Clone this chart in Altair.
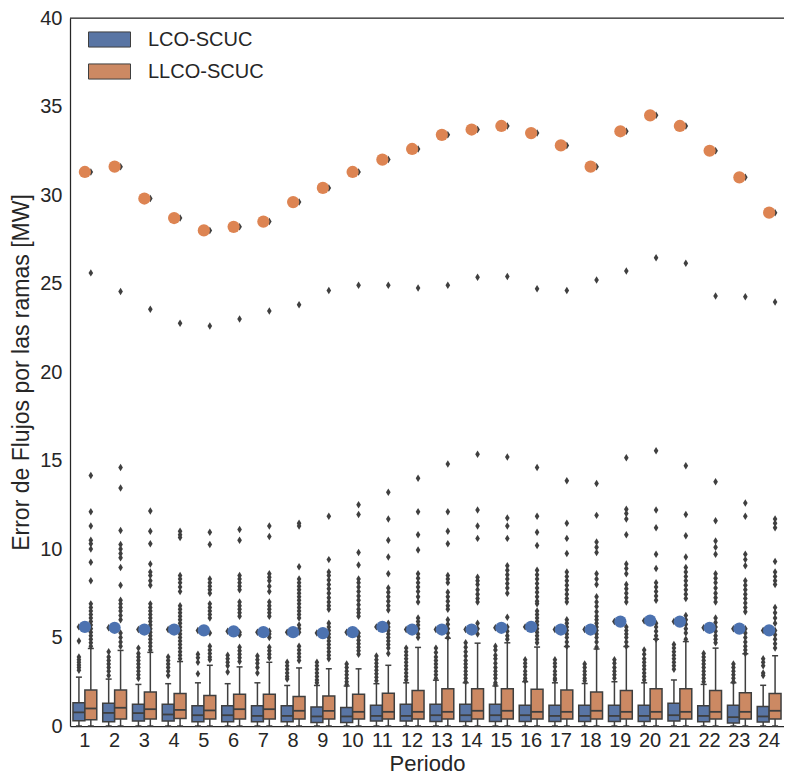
import altair as alt
import pandas as pd

periods = list(range(1, 25))
series = ["LCO-SCUC", "LLCO-SCUC"]

# LCO-SCUC box statistics
lco_q1 = [0.30, 0.24, 0.28, 0.28, 0.24, 0.24, 0.24, 0.24, 0.20, 0.20, 0.28, 0.28,
          0.26, 0.26, 0.26, 0.26, 0.26, 0.26, 0.26, 0.26, 0.28, 0.24, 0.17, 0.22]
lco_med = [0.77, 0.74, 0.73, 0.65, 0.61, 0.61, 0.57, 0.57, 0.54, 0.54, 0.57, 0.57,
           0.61, 0.61, 0.61, 0.61, 0.57, 0.57, 0.57, 0.57, 0.61, 0.57, 0.50, 0.54]
lco_q3 = [1.32, 1.29, 1.23, 1.23, 1.14, 1.14, 1.14, 1.14, 1.08, 1.05, 1.17, 1.23,
          1.23, 1.23, 1.23, 1.17, 1.17, 1.17, 1.17, 1.17, 1.29, 1.14, 1.17, 1.10]
lco_whi = [2.76, 2.65, 2.35, 2.39, 2.44, 2.39, 2.44, 2.29, 2.29, 2.26, 2.39, 2.44,
           2.59, 2.44, 2.26, 2.50, 2.44, 2.40, 2.50, 2.44, 2.60, 2.35, 2.44, 2.30]
lco_wlo = [0.0] * 24

# LLCO-SCUC box statistics
llco_q1 = [0.35, 0.39, 0.39, 0.43, 0.39, 0.39, 0.39, 0.39, 0.39, 0.39, 0.39, 0.39,
           0.39, 0.39, 0.39, 0.39, 0.39, 0.39, 0.39, 0.39, 0.39, 0.39, 0.39, 0.39]
llco_med = [0.99, 1.03, 0.95, 0.91, 0.88, 0.95, 0.95, 0.86, 0.86, 0.80, 0.80, 0.80,
            0.80, 0.86, 0.86, 0.80, 0.80, 0.86, 0.80, 0.80, 0.80, 0.80, 0.80, 0.86]
llco_q3 = [2.03, 2.03, 1.92, 1.83, 1.73, 1.79, 1.79, 1.66, 1.70, 1.79, 1.85, 2.01,
           2.10, 2.10, 2.10, 2.07, 2.03, 1.92, 2.01, 2.10, 2.10, 2.01, 1.88, 1.83]
llco_whi = [4.38, 4.27, 4.16, 3.64, 3.43, 3.34, 3.60, 3.28, 3.23, 3.23, 3.43, 4.44,
            4.96, 4.68, 4.70, 4.46, 4.49, 4.35, 4.49, 4.90, 4.77, 4.40, 4.08, 3.97]
llco_wlo = [0.0] * 24

# maxima (scatter dots, also the top flier of each box)
lco_max = [5.60, 5.55, 5.45, 5.45, 5.40, 5.35, 5.30, 5.30, 5.25, 5.30, 5.60, 5.45,
           5.45, 5.45, 5.55, 5.60, 5.45, 5.45, 5.90, 5.95, 5.90, 5.55, 5.50, 5.40]
llco_max = [31.3, 31.6, 29.8, 28.7, 28.0, 28.2, 28.5, 29.6, 30.4, 31.3, 32.0, 32.6,
            33.4, 33.7, 33.9, 33.5, 32.8, 31.6, 33.6, 34.5, 33.9, 32.5, 31.0, 29.0]

# other fliers
lco_fliers = [
    [4.8, 3.9, 3.75, 3.6, 3.45, 3.3, 3.15],
    [4.2, 3.9, 3.7, 3.5, 3.3, 3.1, 2.85],
    [4.4, 4.1, 3.9, 3.7, 3.5, 3.3, 3.1, 2.9, 2.7],
    [3.9, 3.7, 3.5, 3.3, 3.1, 2.85],
    [4.05, 3.85, 3.6, 2.95],
    [4.0, 3.8, 3.6, 3.4, 3.05],
    [3.95, 3.75, 3.55, 3.3, 3.0],
    [3.6, 3.4, 3.2, 3.0, 2.8, 2.65],
    [3.6, 3.4, 3.2, 3.0, 2.8, 2.6, 2.45],
    [3.5, 3.3, 3.1, 2.9, 2.7, 2.5, 2.35],
    [3.95, 3.75, 3.55, 3.35, 3.15, 2.95, 2.75, 2.55],
    [4.4, 4.2, 4.0, 3.8, 3.6, 3.4, 3.2, 3.0, 2.8, 2.6],
    [4.4, 4.15, 3.9, 3.7, 3.5, 3.3, 3.1, 2.9, 2.7],
    [4.7, 4.45, 4.2, 3.95, 3.7, 3.5, 3.3, 3.1, 2.9, 2.7, 2.5],
    [4.5, 4.3, 4.0, 3.8, 3.55, 3.3, 3.1, 2.9, 2.7, 2.45, 2.35],
    [3.75, 3.55, 3.35, 3.1, 2.9, 2.7, 2.55],
    [3.75, 3.55, 3.35, 3.1, 2.9, 2.7, 2.6],
    [3.5, 3.3, 3.1, 2.9, 2.7, 2.55],
    [3.75, 3.55, 3.3, 3.1, 2.9, 2.7],
    [4.3, 4.05, 3.8, 3.6, 3.4, 3.2, 3.0, 2.8, 2.6],
    [4.6, 4.4, 4.2, 4.0, 3.8, 3.6, 3.4, 3.2],
    [4.1, 3.9, 3.7, 3.5, 3.3, 3.1, 2.9, 2.7, 2.5],
    [3.5, 3.3, 3.1, 2.9, 2.7, 2.5],
    [3.8, 3.6, 3.4, 3.0, 2.85],
]
llco_fliers = [
    [25.6, 14.15, 12.1, 11.3, 10.5, 10.3, 10.0, 9.25, 8.2, 6.9, 6.7, 6.5, 6.3, 6.1, 5.9, 5.7, 5.5, 5.3, 5.1, 4.9, 4.7, 4.5],
    [24.55, 14.6, 13.45, 11.05, 10.25, 10.0, 9.75, 9.5, 8.95, 7.95, 7.1, 6.9, 6.7, 6.5, 6.25, 6.0, 5.25, 5.0, 4.75, 4.5],
    [23.55, 12.15, 11.0, 10.3, 9.15, 8.7, 8.5, 8.2, 7.95, 6.9, 6.7, 6.5, 6.3, 6.1, 5.9, 5.7, 5.5, 5.3, 5.1, 4.9, 4.7, 4.5, 4.3],
    [22.75, 11.0, 10.8, 10.65, 8.5, 8.3, 8.1, 7.85, 7.6, 6.8, 6.6, 6.4, 6.2, 6.0, 5.8, 5.6, 5.4, 5.2, 5.0, 4.8, 4.6, 4.4, 4.2, 4.0, 3.8],
    [22.6, 10.95, 10.25, 8.3, 8.1, 7.9, 7.7, 7.5, 6.9, 6.7, 6.5, 6.3, 6.1, 5.25, 4.5, 4.3, 4.1, 3.9, 3.75],
    [23.0, 11.1, 10.5, 8.5, 8.3, 8.1, 7.9, 7.7, 7.0, 6.8, 6.6, 6.4, 6.2, 5.3, 5.15, 4.45, 4.25, 4.05, 3.85, 3.65],
    [23.45, 11.3, 10.7, 8.6, 8.4, 8.2, 7.9, 7.6, 7.0, 6.8, 6.6, 6.4, 6.2, 5.35, 5.2, 5.0, 4.45, 4.25, 4.05, 3.85],
    [23.8, 11.45, 11.3, 9.0, 8.3, 8.1, 7.9, 7.7, 7.5, 7.3, 7.1, 6.9, 6.7, 6.5, 6.3, 6.1, 5.7, 5.5, 5.3, 4.5, 4.3, 4.1, 3.9, 3.7],
    [24.6, 11.85, 9.4, 8.7, 8.5, 8.25, 8.0, 7.75, 7.5, 7.25, 7.0, 6.8, 6.6, 5.8, 5.6, 5.4, 5.2, 5.0, 4.8, 4.6, 4.4, 4.2, 4.0, 3.8],
    [24.9, 12.5, 11.95, 9.8, 9.1, 8.3, 8.1, 7.85, 7.6, 7.35, 7.1, 6.85, 6.6, 6.4, 6.2, 5.25, 5.05, 4.85, 4.65, 4.45, 4.25, 4.05],
    [24.9, 13.2, 11.7, 10.5, 9.55, 8.6, 7.8, 7.55, 7.3, 7.05, 6.8, 6.55, 5.8, 5.6, 5.4, 5.2, 5.0, 4.8, 4.6, 4.4, 4.1],
    [24.75, 14.0, 12.1, 10.8, 9.95, 8.6, 8.35, 8.1, 7.85, 7.6, 7.3, 7.0, 6.1, 5.9, 5.7, 5.5, 5.2, 5.0],
    [24.9, 14.8, 12.1, 11.0, 10.3, 8.5, 8.3, 8.1, 7.55, 7.3, 7.05, 6.8, 6.6, 6.0, 5.75, 5.5, 5.25, 5.0],
    [25.35, 15.35, 12.2, 11.3, 10.6, 8.4, 8.2, 8.0, 7.7, 7.45, 7.2, 7.0, 5.8, 5.5, 5.2],
    [25.4, 15.2, 11.75, 11.3, 10.6, 9.05, 8.8, 8.55, 8.3, 8.05, 7.8, 7.5, 6.15, 5.6, 5.35, 5.1, 4.9],
    [24.7, 14.6, 11.85, 10.95, 10.2, 8.8, 8.55, 8.3, 8.05, 7.8, 7.55, 7.3, 7.05, 6.9, 6.5, 6.3, 6.1, 5.9, 5.7, 5.5, 5.3, 5.1, 4.9, 4.7],
    [24.6, 13.85, 11.45, 10.6, 9.75, 8.7, 8.45, 8.2, 7.95, 7.7, 7.45, 7.2, 7.0, 6.0, 5.8, 5.6, 5.4, 5.2, 5.0, 4.75, 4.5],
    [25.2, 13.7, 11.9, 10.4, 10.1, 9.8, 8.6, 8.3, 8.0, 7.3, 7.0, 6.75, 6.45, 6.2, 6.0, 5.8, 5.6, 5.4, 5.2, 5.0, 4.75, 4.45],
    [25.7, 15.15, 12.25, 12.0, 11.7, 10.8, 9.15, 8.9, 8.6, 8.0, 7.75, 7.5, 7.25, 7.0, 5.6, 5.4, 5.2, 5.0, 4.75, 4.5],
    [26.45, 15.55, 12.2, 11.2, 9.7, 8.9, 8.1, 7.85, 7.6, 7.35, 7.1, 5.8, 5.6, 5.35, 5.1, 4.9],
    [26.15, 14.7, 11.95, 10.75, 9.55, 8.95, 8.7, 8.45, 8.2, 7.95, 7.7, 7.45, 7.2, 6.25, 6.0, 5.75, 5.5, 5.25, 4.9],
    [24.3, 13.8, 11.6, 10.45, 10.1, 9.7, 8.6, 8.35, 8.1, 7.8, 7.5, 7.25, 7.0, 6.1, 5.85, 5.6, 5.35, 5.1, 4.9, 4.7],
    [24.25, 12.6, 11.85, 9.7, 9.4, 9.05, 8.2, 7.95, 7.7, 7.45, 7.2, 6.95, 6.7, 6.45, 5.5, 5.25, 5.0, 4.75, 4.5, 4.3, 4.1],
    [23.95, 11.7, 11.45, 11.2, 9.3, 8.7, 8.45, 8.2, 8.0, 6.7, 6.4, 6.1, 5.8, 5.4, 5.15, 4.9, 4.65, 4.4],
]

# ---------------- build tables ----------------
box_rows = []
for i, p in enumerate(periods):
    box_rows.append(dict(Periodo=p, Serie=series[0], q1=lco_q1[i], med=lco_med[i],
                         q3=lco_q3[i], whi=lco_whi[i], wlo=lco_wlo[i]))
    box_rows.append(dict(Periodo=p, Serie=series[1], q1=llco_q1[i], med=llco_med[i],
                         q3=llco_q3[i], whi=llco_whi[i], wlo=llco_wlo[i]))
box_df = pd.DataFrame(box_rows)

fl_rows = []
for i, p in enumerate(periods):
    for v in lco_fliers[i] + [lco_max[i]]:
        fl_rows.append(dict(Periodo=p, Serie=series[0], value=v))
    for v in llco_fliers[i] + [llco_max[i]]:
        fl_rows.append(dict(Periodo=p, Serie=series[1], value=v))
fl_df = pd.DataFrame(fl_rows)

dot_lco = pd.DataFrame(dict(Periodo=periods, value=lco_max))
dot_llco = pd.DataFrame(dict(Periodo=periods, value=llco_max))
top_df = pd.DataFrame(dict(value=[40]))

# ---------------- style ----------------
GRAY = "#3f3f3f"
TXT = "#262626"
FONT = "Liberation Sans"
BOX_COLORS = ["#5975A4", "#CC8963"]
DOT_BLUE = "#4C72B0"
DOT_ORANGE = "#DD8452"
YTITLE = "Error de Flujos por las ramas [MW]"

yscale = alt.Scale(domain=[0, 40], nice=False, zero=True)
yaxis = alt.Axis(values=[0, 5, 10, 15, 20, 25, 30, 35, 40], tickSize=0, grid=False,
                 labelFontSize=20, labelPadding=8, labelColor=TXT,
                 titleFontSize=23, titleFontWeight="normal", titleColor=TXT,
                 titlePadding=6, domainColor=TXT, domainWidth=1.25)
xaxis = alt.Axis(labelAngle=0, tickSize=0, labelFontSize=20, labelPadding=4,
                 labelColor=TXT, titleFontSize=22, titleFontWeight="normal",
                 titleColor=TXT, titlePadding=3, domainColor=TXT, domainWidth=1.25)


def X():
    return alt.X("Periodo:O", scale=alt.Scale(type="band", paddingInner=0, paddingOuter=0),
                 axis=xaxis, title="Periodo")


def XO():
    return alt.XOffset("Serie:N", scale=alt.Scale(domain=series, paddingInner=0, paddingOuter=0.25))


def Y(field):
    return alt.Y(field, type="quantitative", scale=yscale, axis=yaxis, title=YTITLE)


diamond = "M0,-1L0.62,0L0,1L-0.62,0Z"

whisk_hi = alt.Chart(box_df).mark_rule(color=GRAY, strokeWidth=1.5).encode(
    x=X(), xOffset=XO(), y=Y("q3"), y2="whi")
whisk_lo = alt.Chart(box_df).mark_rule(color=GRAY, strokeWidth=1.5).encode(
    x=X(), xOffset=XO(), y=Y("wlo"), y2="q1")
cap_hi = alt.Chart(box_df).mark_tick(color=GRAY, size=6, thickness=1.5, opacity=1).encode(
    x=X(), xOffset=XO(), y=Y("whi"))
cap_lo = alt.Chart(box_df).mark_tick(color=GRAY, size=6, thickness=1.5, opacity=1).encode(
    x=X(), xOffset=XO(), y=Y("wlo"))
boxes = alt.Chart(box_df).mark_bar(stroke=GRAY, strokeWidth=1.5, opacity=1).encode(
    x=X(), xOffset=XO(), y=Y("q1"), y2="q3",
    color=alt.Color("Serie:N", scale=alt.Scale(domain=series, range=BOX_COLORS),
                    legend=alt.Legend(title=None, orient="none", legendX=18, legendY=0,
                                      symbolType="M-1,-0.36L1,-0.36L1,0.36L-1,0.36Z",
                                      symbolSize=1764, symbolStrokeColor=GRAY,
                                      symbolStrokeWidth=1, symbolOpacity=1,
                                      labelFontSize=20, labelColor=TXT, labelFont=FONT,
                                      labelOffset=17, rowPadding=-5, padding=0)))
medians = alt.Chart(box_df).mark_tick(color=GRAY, size=12, thickness=1.8, opacity=1).encode(
    x=X(), xOffset=XO(), y=Y("med"))
fliers = alt.Chart(fl_df).mark_point(shape=diamond, filled=True, color=GRAY, size=56,
                                     opacity=1).encode(
    x=X(), xOffset=XO(), y=Y("value"))
dots_b = alt.Chart(dot_lco).mark_circle(color=DOT_BLUE, size=150, opacity=1).encode(
    x=X(), y=Y("value"))
dots_o = alt.Chart(dot_llco).mark_circle(color=DOT_ORANGE, size=150, opacity=1).encode(
    x=X(), y=Y("value"))
top_line = alt.Chart(top_df).mark_rule(color=TXT, strokeWidth=1.25).encode(y=Y("value"))

chart = alt.layer(
    whisk_hi, whisk_lo, cap_hi, cap_lo, boxes, medians, fliers, dots_b, dots_o, top_line
).properties(
    width=714, height=708,
    autosize=alt.AutoSizeParams(type="none"),
    padding={"left": 62, "top": 10, "right": 0, "bottom": 48},
    background="white",
).configure_view(stroke=None).configure(font=FONT)

chart.save("out.html", embed_options={"renderer": "svg", "actions": False})
